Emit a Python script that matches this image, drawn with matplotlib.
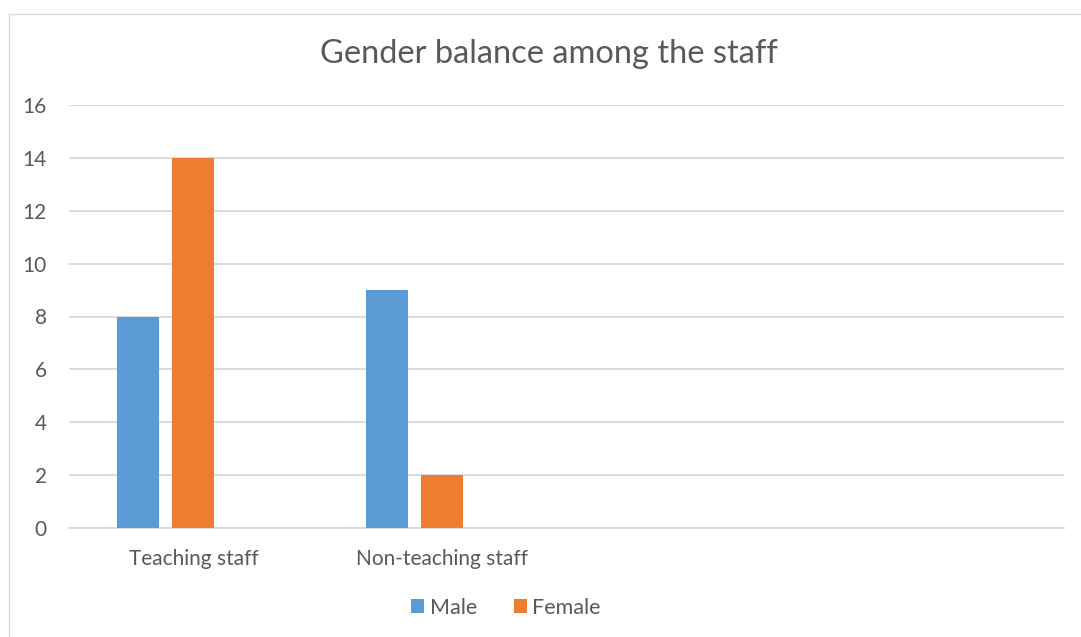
import matplotlib
matplotlib.use('Agg')
import matplotlib.pyplot as plt
import numpy as np
from matplotlib.patches import Rectangle

# staff counts per category (last two category slots are unused)
categories = ['Teaching staff', 'Non-teaching staff', '', '']
male = [8, 9, None, None]
female = [14, 2, None, None]
series_names = ['Male', 'Female']

plt.rcParams['font.family'] = ['Lato', 'DejaVu Sans']
txt = '#595959'

fig = plt.figure(figsize=(10.81, 6.37), dpi=100)
W, H = 1081, 637
ax = fig.add_axes([69 / W, 1 - 528 / H, (1064 - 69) / W, (528 - 105) / H])

# outer chart border
fig.patches.append(Rectangle((8.5 / W, -0.05), 1.2, 1 - 13.5 / H + 0.05,
                             transform=fig.transFigure, fill=False,
                             edgecolor='#D9D9D9', linewidth=1.0))

x = np.arange(len(categories))
step = 0.221
bw = 0.169
m_vals = [v if v is not None else 0 for v in male]
f_vals = [v if v is not None else 0 for v in female]
ax.bar(x - step, m_vals, bw, color='#5B9BD5', label=series_names[0], zorder=3)
ax.bar(x, f_vals, bw, color='#ED7D31', label=series_names[1], zorder=3)

ax.set_xlim(-0.5, len(categories) - 0.5)
ax.set_ylim(0, 16)
ax.set_yticks(range(0, 17, 2))
ax.set_xticks(x)
ax.set_xticklabels(categories)
ax.yaxis.grid(True, color='#D9D9D9', linewidth=1.3, zorder=0)
ax.tick_params(axis='both', length=0, labelsize=15, colors=txt)
ax.tick_params(axis='y', pad=16)
ax.tick_params(axis='x', pad=15)
for s in ['top', 'right', 'left']:
    ax.spines[s].set_visible(False)
ax.spines['bottom'].set_color('#D9D9D9')
ax.spines['bottom'].set_linewidth(1.3)

fig.text(549 / W, 1 - 54 / H, 'Gender balance among the staff', ha='center',
         va='center', fontsize=23.5, color=txt)

ax.legend(loc='center', bbox_to_anchor=(506 / W, 1 - 608 / H),
          bbox_transform=fig.transFigure, ncol=2, frameon=False,
          fontsize=15.5, labelcolor=txt, handlelength=0.62, handleheight=0.62,
          handletextpad=0.25, columnspacing=1.7)

fig.savefig('out.png', dpi=100)
